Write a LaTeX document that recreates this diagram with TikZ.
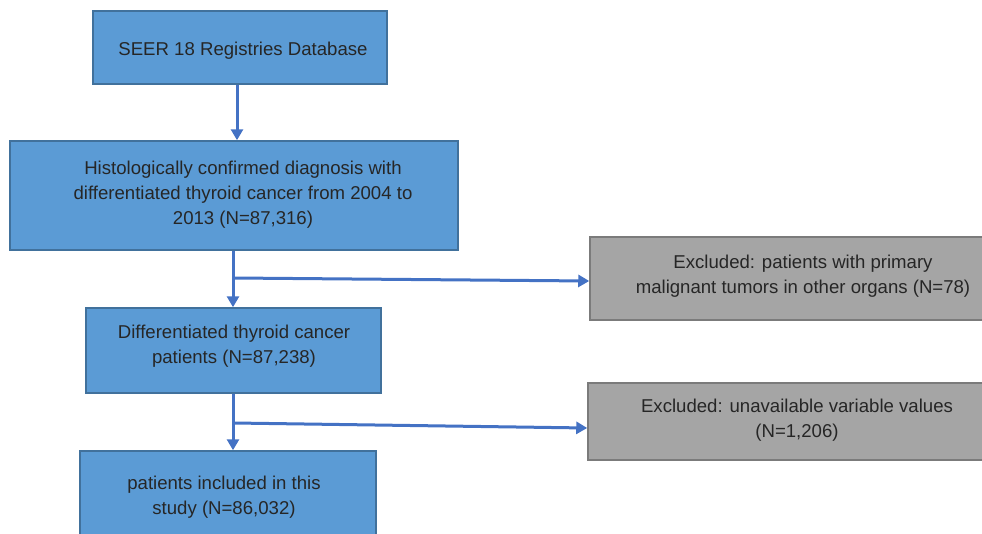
\documentclass[tikz,border=0pt]{standalone}
\usepackage{fontspec}
\setmainfont{Liberation Sans}
\usetikzlibrary{arrows.meta}
\definecolor{bluefill}{HTML}{5B9BD5}
\definecolor{blueedge}{HTML}{41719C}
\definecolor{grayfill}{HTML}{A5A5A5}
\definecolor{grayedge}{HTML}{7B7B7B}
\definecolor{arrowblue}{HTML}{4472C4}
\definecolor{txt}{HTML}{262626}
\tikzset{
  bluebox/.style={draw=blueedge, fill=bluefill, line width=1.5pt, inner sep=0pt},
  graybox/.style={draw=grayedge, fill=grayfill, line width=1.5pt, inner sep=0pt},
  lbl/.style={text=txt, align=center, inner sep=0pt, font=\fontsize{18.6}{24.8}\selectfont},
  conn/.style={draw=arrowblue, line width=3pt, -{Triangle[width=12pt,length=11pt]}},
  plainconn/.style={draw=arrowblue, line width=3pt}
}
\begin{document}
\begin{tikzpicture}[x=1pt,y=-1pt]
\useasboundingbox (0,0) rectangle (982,533);
\begin{scope}
\clip (0,0) rectangle (982,533);
% boxes
\node[bluebox, minimum width=294pt, minimum height=73pt] (b1) at (240,47.5) {};
\node[bluebox, minimum width=448pt, minimum height=109pt] (b2) at (234,195.5) {};
\node[bluebox, minimum width=295pt, minimum height=85pt] (b3) at (233.5,350.5) {};
\node[bluebox, minimum width=296pt, minimum height=100pt] (b4) at (228,501) {};
\node[graybox, minimum width=400pt, minimum height=83pt] (g1) at (790,278.5) {};
\node[graybox, minimum width=400pt, minimum height=77pt] (g2) at (788,421.5) {};
\end{scope}
% texts
\node[lbl] (t1) at (243,51) {SEER 18 Registries Database};
\node[lbl] (t2) at (243,194.5) {Histologically confirmed diagnosis with\\differentiated thyroid cancer from 2004 to\\2013 (N=87,316)};
\node[lbl] (t3) at (234,346.5) {Differentiated thyroid cancer\\patients (N=87,238)};
\node[lbl] (t4) at (224,497.5) {patients included in this\\study (N=86,032)};
\node[lbl] (t5) at (803,276.5) {Excluded: patients with primary\\malignant tumors in other organs (N=78)};
\node[lbl] (t6) at (797,420) {Excluded: unavailable variable values\\(N=1,206)};
% connectors
\draw[conn] (b1.south -| 237,0) -- (b2.north -| 237,0);
\draw[conn] (b2.south -| 233,0) -- (b3.north -| 233,0);
\draw[conn] (b3.south -| 233,0) -- (b4.north -| 233,0);
\coordinate (s1) at (234,278);
\coordinate (s2) at (234,423);
\draw[conn] (s1) -- (g1.west |- 0,281);
\draw[conn] (s2) -- (g2.west |- 0,428);
\end{tikzpicture}
\end{document}
